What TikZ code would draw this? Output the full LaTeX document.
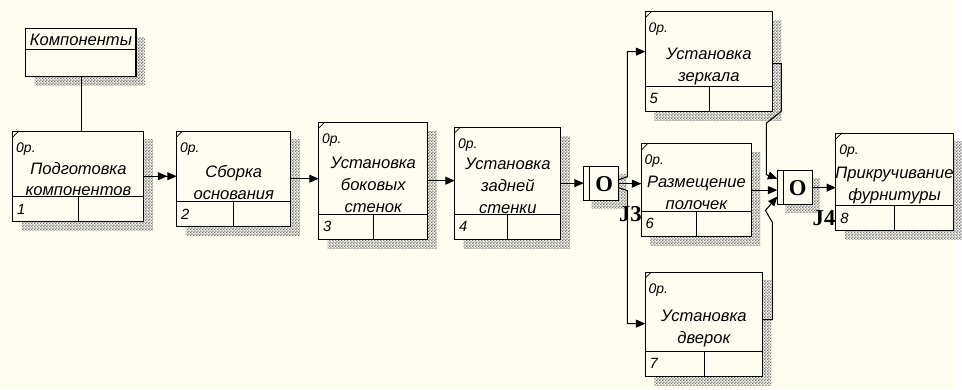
\documentclass[tikz,border=0pt]{standalone}
\usepackage{fontspec}
\setmainfont{Liberation Sans}
\newfontfamily\jfont{Liberation Serif}
\usetikzlibrary{arrows.meta, calc, patterns}
\definecolor{paper}{RGB}{255,253,242}
\pgfdeclarepatternformonly{fine hatch}{\pgfpointorigin}{\pgfqpoint{1.6pt}{1.6pt}}%
  {\pgfqpoint{1.6pt}{1.6pt}}{%
  \pgfpathrectangle{\pgfpointorigin}{\pgfqpoint{0.8pt}{0.8pt}}%
  \pgfpathrectangle{\pgfqpoint{0.8pt}{0.8pt}}{\pgfqpoint{0.8pt}{0.8pt}}%
  \pgfusepath{fill}}

\begin{document}
\begin{tikzpicture}[x=0.02cm, y=-0.02cm,
    uob/.style={draw, fill=paper, inner sep=0pt, outer sep=0pt, anchor=north west, line width=0.6pt},
    shadow/.style={pattern=fine hatch, pattern color=black!55},
    uobtext/.style={font=\fontsize{9.5}{12.5}\selectfont\itshape, align=center, inner sep=0pt, anchor=north},
    uobtag/.style={font=\fontsize{8}{9}\selectfont\itshape, inner sep=0pt, anchor=north west},
    uobnum/.style={font=\fontsize{8.5}{10}\selectfont\itshape, inner sep=0pt, anchor=west},
    junc/.style={draw, fill=paper, inner sep=0pt, outer sep=0pt, minimum width=0.7cm,
                 minimum height=0.68cm, line width=0.6pt},
    jlbl/.style={font=\jfont\bfseries\fontsize{13}{15}\selectfont, inner sep=0pt},
    flow/.style={-{Triangle[length=1.9mm, width=1.6mm]}, line width=0.6pt},
    objflow/.style={-{Triangle[length=1.9mm, width=1.6mm]Triangle[length=1.9mm, width=1.6mm]},
                    line width=0.6pt},
]
\fill[paper] (0,0) rectangle (962,392);

% referent
\fill[shadow] (35,38) rectangle ++(111,48);
\node[uob, minimum width=111*0.02cm, minimum height=48*0.02cm] (comp) at (26,29) {};
\draw ($(comp.north west)+(0,21)$) -- ($(comp.north east)+(0,21)$);
\node[uobtext, anchor=center] (comp-t) at ($(comp.north)+(0,11)$) {Компоненты};

% units of work
\foreach \n/\x/\y/\w/\h/\o/\k/\t in {
    b1/13/132/132/91/31/1/{Подготовка\\компонентов},
    b2/178/132/115/96/34/2/{Сборка\\основания},
    b3/321/123/110/118/35/3/{Установка\\боковых\\стенок},
    b4/458/128/107/113/31/4/{Установка\\задней\\стенки},
    b5/650/12/128/100/36/5/{Установка\\зеркала},
    b6/646/145/111/93/32/6/{Размещение\\полочек},
    b7/650/274/118/105/38/7/{Установка\\дверок},
    b8/842/134/118/98/34/8/{Прикручивание\\фурнитуры}}
{
  \fill[shadow] (\x+9,\y+9) rectangle ++(\w,\h);
  \node[uob, minimum width=\w*0.02cm, minimum height=\h*0.02cm] (\n) at (\x,\y) {};
  \draw ($(\n.south west)+(0,-25)$) -- ($(\n.south east)+(0,-25)$);
  \draw ($(\n.south)+(0,-25)$) -- (\n.south);
  \draw ($(\n.north west)+(0,6)$) -- ($(\n.north west)+(6,0)$);
  \node[uobtag] (\n-op) at ($(\n.north west)+(3,11)$) {0p.};
  \node[uobtext] (\n-t) at ($(\n.north)+(0,\o)$) {\t};
  \node[uobnum] (\n-k) at ($(\n.south west)+(4,-12.5)$) {\k};
}

% junctions
\fill[shadow] (596,176) rectangle ++(35,34);
\node[junc] (j3) at (605.5,185) {};
\draw ($(j3.north west)+(6,0)$) -- ($(j3.south west)+(6,0)$);
\node[jlbl] (j3-o) at ($(j3.center)+(3,0)$) {O};
\node[jlbl] (j3-l) at ($(j3.south east)+(12,14)$) {J3};

\fill[shadow] (791,180) rectangle ++(35,34);
\node[junc] (j4) at (800.5,189) {};
\draw ($(j4.north west)+(6,0)$) -- ($(j4.south west)+(6,0)$);
\node[jlbl] (j4-o) at ($(j4.center)+(3,0)$) {O};
\node[jlbl] (j4-l) at ($(j4.south east)+(12,14)$) {J4};

% links
\draw (comp.south) -- (comp.south |- b1.north);
\draw[objflow] (b1.east) -- (b1.east -| b2.west);
\draw[flow] (b2.east) -- (b2.east -| b3.west);
\draw[flow] (b3.east) -- (b3.east -| b4.west);
\draw[flow] (b4.east) -- (b4.east -| j3.west);
\draw[flow] (j3.east) -- (j3.east -| b6.west);
\draw[flow] ($(j3.east)+(0,-4)$) -- ++(9,-3) |- ($(b5.north west)+(0,40)$);
\draw[flow] ($(j3.east)+(0,4)$) -- ++(9,3) |- ($(b7.north west)+(0,52)$);
\draw[flow] ($(b5.north east)+(0,52)$) -- ++(9,0) -- ++(0,48) -- ++(-15,12)
    -- ++(0,52) -- ($(j4.west)+(0,-9)$);
\draw[flow] (b6.east) -- (b6.east -| j4.west);
\draw[flow] ($(b7.north east)+(0,48)$) -- ++(10,0) -- ++(0,-98) -- ++(-7,-12)
    -- ($(j4.west)+(0,9)$);
\draw[flow] (j4.east) -- (j4.east -| b8.west);
\end{tikzpicture}
\end{document}
